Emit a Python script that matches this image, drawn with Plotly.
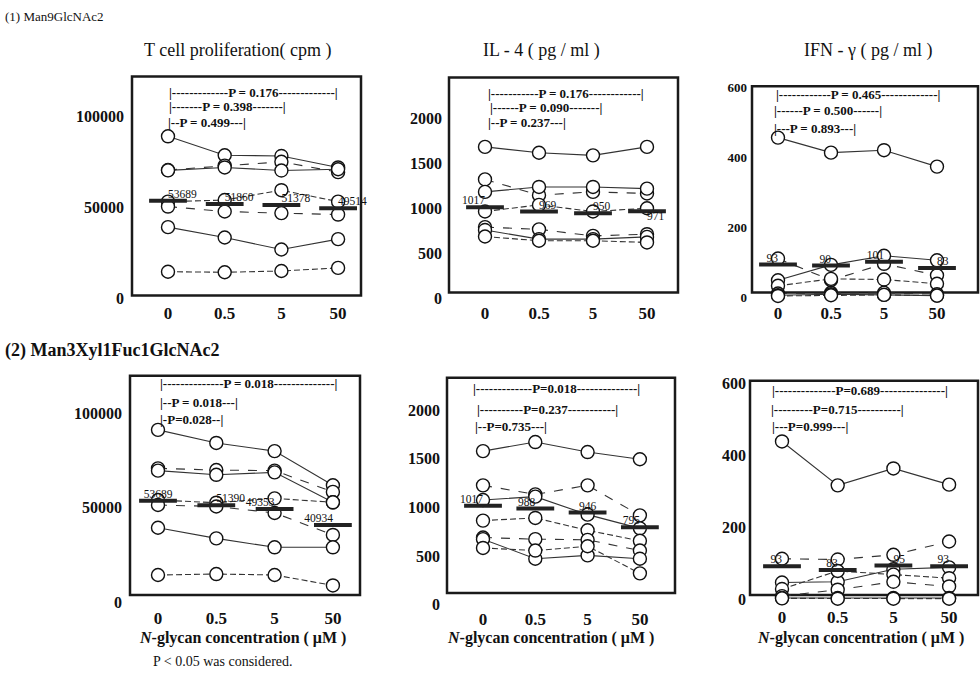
import plotly.graph_objects as go

W, H = 980, 688
FONT = "Liberation Serif, Times New Roman, serif"

conc_labels = ["0", "0.5", "5", "50"]
conc_index = [0, 1, 2, 3]

# ---------------- data ----------------
tcell_man9 = [
    [89100, 78700, 78300, 72000],
    [70600, 73000, 75100, 69400],
    [70400, 72000, 70300, 71000],
    [53200, 54100, 59500, 53200],
    [50500, 47800, 46900, 46100],
    [39200, 33500, 26900, 32600],
    [14700, 14400, 15100, 16800],
]
tcell_man9_means = [53689, 51860, 51378, 49514]
tcell_man9_p = ["P = 0.176", "P = 0.398", "P = 0.499"]

il4_man9 = [
    [1688, 1623, 1594, 1688],
    [1326, 1151, 1187, 1169],
    [1187, 1242, 1242, 1223],
    [969, 1042, 969, 1005],
    [795, 770, 697, 716],
    [763, 661, 661, 686],
    [690, 643, 643, 624],
]
il4_man9_means = [1017, 969, 950, 971]
il4_man9_p = ["P = 0.176", "P = 0.090", "P = 0.237"]

ifn_man9 = [
    [456, 413, 420, 373],
    [110, 48, 95, 62],
    [48, 92, 118, 105],
    [32, 52, 50, 38],
    [10, 12, 12, 8],
    [5, 8, 6, 4],
    [3, 5, 6, 4],
]
ifn_man9_means = [93, 90, 101, 83]
ifn_man9_p = ["P = 0.465", "P = 0.500", "P = 0.893"]

tcell_man3 = [
    [91100, 84200, 79900, 61900],
    [70800, 69900, 69600, 58400],
    [69600, 67400, 68700, 52900],
    [54100, 52700, 55000, 52900],
    [51500, 50700, 47300, 35700],
    [39500, 33900, 29200, 29200],
    [14600, 15100, 14600, 9100],
]
tcell_man3_means = [53689, 51390, 49353, 40934]
tcell_man3_p = ["P = 0.018", "P = 0.018", "P=0.028"]

il4_man3 = [
    [1578, 1671, 1568, 1494],
    [1226, 1133, 1226, 918],
    [1075, 1110, 925, 784],
    [864, 891, 764, 656],
    [690, 673, 666, 556],
    [673, 472, 506, 472],
    [583, 556, 600, 322],
]
il4_man3_means = [1017, 988, 946, 795]
il4_man3_p = ["P=0.018", "P=0.237", "P=0.735"]

ifn_man3 = [
    [440, 318, 365, 320],
    [114, 112, 125, 162],
    [48, 50, 85, 90],
    [30, 80, 70, 60],
    [10, 28, 50, 37],
    [5, 5, 5, 5],
    [4, 3, 3, 3],
]
ifn_man3_means = [93, 83, 95, 93]
ifn_man3_p = ["P=0.689", "P=0.715", "P=0.999"]

tcell_ticks = [0, 50000, 100000]
il4_ticks = [0, 500, 1000, 1500, 2000]
ifn_ticks = [0, 200, 400, 600]

# ---------------- layout specs (pixels) ----------------
panels = [
    dict(series=tcell_man9, means=tcell_man9_means, p=tcell_man9_p, ticks=tcell_ticks,
         frame=(132, 361, 72, 296), zero=299, ymax=122000, cat0=168, sp=56.7, yfs=16,
         xstand=3, ystand=7,
         brackets=[(168, 338, 88), (168, 287, 103), (168, 245, 119)],
         tpos=["top right", "top right", "top right", "top right"]),
    dict(series=il4_man9, means=il4_man9_means, p=il4_man9_p, ticks=il4_ticks,
         frame=(449, 678, 73, 293), zero=299, ymax=2462, cat0=485, sp=54, yfs=16,
         xstand=3, ystand=6,
         brackets=[(488, 643, 89), (488, 603, 104), (488, 565, 119)],
         tpos=["top left", "top right", "top right", "bottom right"]),
    dict(series=ifn_man9, means=ifn_man9_means, p=ifn_man9_p, ticks=ifn_ticks,
         frame=(752, 978, 82, 293), zero=297.5, ymax=603, cat0=778, sp=53, yfs=13,
         xstand=4, ystand=4,
         brackets=[(776, 940, 90), (773, 882, 107), (773, 857, 125)],
         tpos=["top left", "top left", "top left", "top right"]),
    dict(series=tcell_man3, means=tcell_man3_means, p=tcell_man3_p, ticks=tcell_ticks,
         frame=(130, 360, 378, 602), zero=610, ymax=119600, cat0=158, sp=58.3, yfs=16,
         xstand=3, ystand=7,
         brackets=[(160, 337, 386), (160, 238, 405), (160, 223, 423)],
         tpos=["top center", "top right", "top left", "top left"]),
    dict(series=il4_man3, means=il4_man3_means, p=il4_man3_p, ticks=il4_ticks,
         frame=(447, 675, 380, 600), zero=612, ymax=2332, cat0=483, sp=52.3, yfs=16,
         xstand=2, ystand=6,
         brackets=[(472, 640, 391), (477, 617, 412), (475, 547, 430)],
         tpos=["top left", "top left", "top center", "top left"]),
    dict(series=ifn_man3, means=ifn_man3_means, p=ifn_man3_p, ticks=ifn_ticks,
         frame=(750, 978, 383, 602), zero=607, ymax=609, cat0=782, sp=55.7, yfs=16,
         xstand=5, ystand=3,
         brackets=[(772, 948, 393), (772, 903, 412), (772, 848, 430)],
         tpos=["top left", "top left", "top right", "top left"]),
]

dash_styles = ["solid", "dash", "solid", "6px,3px", "dash", "solid", "6px,3px"]

# Liberation Serif Bold advance widths (em)
ADV = {"|": 0.22, "-": 0.333, "P": 0.611, "=": 0.57, " ": 0.25, ".": 0.25}
PSIZE = 13


def text_w(s, size):
    return sum(ADV.get(c, 0.5) for c in s) * size


def bracket(ptext, width, size=PSIZE):
    bw = ADV["|"] * size
    dw = ADV["-"] * size
    n = max(0, round((width - text_w(ptext, size) - 2 * bw) / dw))
    l = n // 2
    r = n - l
    return "|" + "-" * l + ptext + "-" * r + "|"


fig = go.Figure()
layout = {}
shapes = []
annotations = []

for i, pnl in enumerate(panels):
    k = "" if i == 0 else str(i + 1)
    xa, ya = "x" + k, "y" + k
    x0, x1, ytop, ybot = pnl["frame"]
    layout["xaxis" + k] = dict(
        domain=[x0 / W, x1 / W],
        range=[(x0 - pnl["cat0"]) / pnl["sp"], (x1 - pnl["cat0"]) / pnl["sp"]],
        tickvals=conc_index, ticktext=conc_labels, ticks="",
        showline=False, showgrid=False, zeroline=False, anchor=ya,
        tickfont=dict(family=FONT, size=17, color="#111", weight="bold"),
        ticklabelstandoff=pnl["xstand"], fixedrange=True,
    )
    layout["yaxis" + k] = dict(
        domain=[1 - pnl["zero"] / H, 1 - ytop / H],
        range=[0, pnl["ymax"]], tickvals=pnl["ticks"],
        ticktext=[str(t) for t in pnl["ticks"]], ticks="",
        showline=False, showgrid=False, zeroline=False, anchor=xa,
        tickfont=dict(family=FONT, size=pnl["yfs"], color="#111", weight="bold"),
        ticklabelstandoff=pnl["ystand"], fixedrange=True,
    )
    shapes.append(dict(type="rect", xref="paper", yref="paper",
                       x0=x0 / W, x1=x1 / W, y0=1 - ybot / H, y1=1 - ytop / H,
                       line=dict(color="#1a1a1a", width=2.5), layer="below"))

    for j, vals in enumerate(pnl["series"]):
        fig.add_trace(go.Scatter(
            x=conc_index, y=vals, mode="lines+markers", xaxis=xa, yaxis=ya,
            line=dict(color="#333", width=1.1, dash=dash_styles[j % len(dash_styles)]),
            marker=dict(symbol="circle", size=13, color="white",
                        line=dict(color="#111", width=1.4)),
            cliponaxis=False, showlegend=False, hoverinfo="skip"))

    fig.add_trace(go.Scatter(
        x=conc_index, y=pnl["means"], mode="markers", xaxis=xa, yaxis=ya,
        marker=dict(symbol="line-ew", size=27, line=dict(color="#222", width=4)),
        cliponaxis=False, showlegend=False, hoverinfo="skip"))
    fig.add_trace(go.Scatter(
        x=conc_index, y=pnl["means"], mode="text", xaxis=xa, yaxis=ya,
        text=[str(m) for m in pnl["means"]], textposition=pnl["tpos"],
        textfont=dict(family=FONT, size=11.5, color="#111"),
        cliponaxis=False, showlegend=False, hoverinfo="skip"))

    for (bx0, bx1, by), ptext in zip(pnl["brackets"], pnl["p"]):
        annotations.append(dict(
            xref="paper", yref="paper", x=(bx0 + bx1) / 2 / W, y=1 - by / H,
            xanchor="center", yanchor="middle", showarrow=False,
            text=bracket(ptext, bx1 - bx0), borderpad=0,
            font=dict(family=FONT, size=PSIZE, color="#111", weight="bold")))


def label(text, xpx, ypx, size, anchor="center", bold=False):
    annotations.append(dict(
        xref="paper", yref="paper", x=xpx / W, y=1 - ypx / H,
        xanchor=anchor, yanchor="middle", showarrow=False, text=text, borderpad=0,
        font=dict(family=FONT, size=size, color="#111",
                  weight="bold" if bold else "normal")))


label("(1) Man9GlcNAc2", 4, 11, 13, "left")
label("T cell proliferation( cpm )", 238, 45, 18)
label("IL - 4 ( pg / ml )", 541, 45, 18)
label("IFN - γ ( pg / ml )", 868, 45, 18)
label("(2) Man3Xyl1Fuc1GlcNAc2", 4, 352, 18, "left", bold=True)
for cx in (242, 550, 860):
    label("<i>N</i>-glycan concentration ( μM )", cx, 646, 16, bold=True)
label("P < 0.05 was considered.", 152, 670, 14, "left")

fig.update_layout(
    width=W, height=H, margin=dict(l=0, r=0, t=0, b=0),
    paper_bgcolor="white", plot_bgcolor="white",
    shapes=shapes, annotations=annotations, showlegend=False,
    **layout,
)

fig.write_html(
    "out.html",
    config={"displayModeBar": False, "staticPlot": True},
    post_script=(
        "document.documentElement.style.margin='0';"
        "document.body.style.margin='0';"
        "document.documentElement.style.overflow='hidden';"
        "document.body.style.overflow='hidden';"
        "var gd=document.getElementById('{plot_id}');"
        "gd.style.position='fixed';gd.style.left='0px';gd.style.top='0px';"
    ),
)
